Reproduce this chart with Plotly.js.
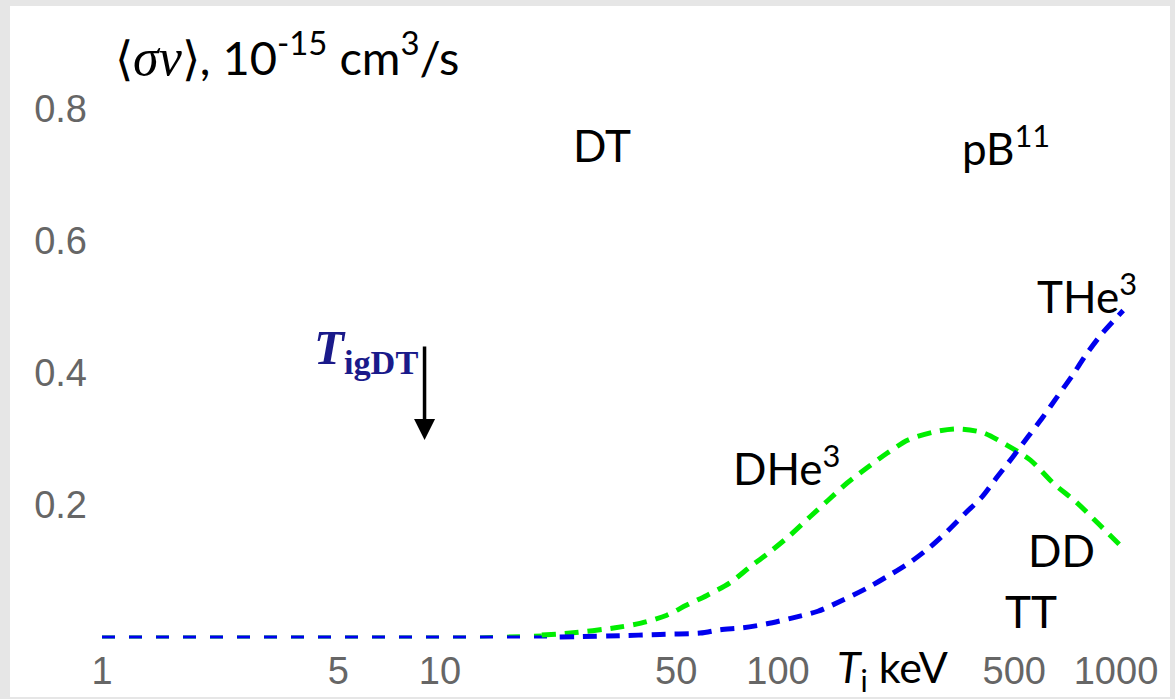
<!DOCTYPE html>
<html>
<head>
<meta charset="utf-8">
<script src="https://cdn.plot.ly/plotly-3.0.1.min.js"></script>
<style>
  html, body { margin: 0; padding: 0; background: #e6e6e6; width: 1175px; height: 699px; overflow: hidden; }
  #chart { position: absolute; left: 10px; top: 6px; width: 1160px; height: 691px; background: #ffffff; }
</style>
</head>
<body>
<div id="chart"></div>
<script>
// Temperature Ti (keV) and reactivity <sigma v> (1e-15 cm^3/s)
const T_dhe3 = [1, 13, 20, 24.3, 33, 39.3, 46.9, 53.5, 61.6, 72.1, 82.6, 94.7, 108.6, 124.4, 140.7, 160.1, 183.4, 210, 242.5, 287.4, 338.5, 404.6, 476.5, 557, 651.5, 767, 897, 1042];
const sv_dhe3 = [0, 0, 0.003, 0.006, 0.014, 0.021, 0.033, 0.048, 0.063, 0.082, 0.106, 0.129, 0.154, 0.182, 0.207, 0.233, 0.256, 0.278, 0.298, 0.310, 0.315, 0.309, 0.290, 0.268, 0.233, 0.203, 0.169, 0.136];

const T_the3 = [1, 22.6, 34.1, 44.8, 58.8, 67.4, 78.8, 92.7, 110.6, 131.2, 155.7, 183.4, 214.2, 245.8, 281.6, 318.5, 357.6, 401.5, 444.8, 492.5, 549, 608, 669, 741, 820, 909, 1050];
const sv_the3 = [0, 0, 0.002, 0.004, 0.006, 0.011, 0.014, 0.020, 0.029, 0.039, 0.056, 0.074, 0.094, 0.113, 0.136, 0.161, 0.187, 0.212, 0.242, 0.271, 0.303, 0.333, 0.363, 0.395, 0.429, 0.459, 0.494];

const xTickVals = [1, 5, 10, 50, 100, 500, 1000];
const xTickText = ['1', '5', '10', '50', '100', '500', '1000'];
const yTickVals = [0.2, 0.4, 0.6, 0.8];
const yTickText = ['0.2', '0.4', '0.6', '0.8'];

// reaction labels: [text, Ti keV, <sigma v>]
const reactionLabels = [
  ['DT', 30.1, 0.744],
  ['pB<sup>11</sup>', 473, 0.744],
  ['THe<sup>3</sup>', 820, 0.520],
  ['DHe<sup>3</sup>', 106, 0.259],
  ['DD', 692, 0.132],
  ['TT', 561, 0.039]
];
const T_ignitionDT = 9;      // keV
const sv_arrowTip = 0.298;

const thinCut = 20; // below this Ti the shared baseline is drawn thin

function part(T, v, keep) {
  const x = [], y = [];
  for (let i = 0; i < T.length; i++) if (keep(T[i])) { x.push(T[i]); y.push(v[i]); }
  return {x, y};
}

const gThick = part(T_dhe3, sv_dhe3, t => t >= thinCut);
const bThick = part(T_the3, sv_the3, t => t >= thinCut);
const gThin = part(T_dhe3, sv_dhe3, t => t <= thinCut);
const bThin = part(T_the3, sv_the3, t => t <= thinCut + 3);

const GREEN = '#00ee00';
const BLUE = '#0000ee';

const traces = [
  {x: gThin.x, y: gThin.y, mode: 'lines', line: {color: GREEN, width: 3, dash: '13px,14px'}, name: 'DHe3 base', showlegend: false},
  {x: bThin.x, y: bThin.y, mode: 'lines', line: {color: BLUE, width: 3, dash: '13px,14px'}, name: 'THe3 base', showlegend: false},
  {x: gThick.x, y: gThick.y, mode: 'lines', line: {color: GREEN, width: 5, dash: '14px,9px', shape: 'spline', smoothing: 0.8}, name: 'DHe3', showlegend: false},
  {x: bThick.x, y: bThick.y, mode: 'lines', line: {color: BLUE, width: 5, dash: '14px,9px', shape: 'spline', smoothing: 0.8}, name: 'THe3', showlegend: false}
];

const sansFont = 'Lato, "Open Sans", "Liberation Sans", sans-serif';
const annotations = reactionLabels.map(r => ({
  text: r[0], x: Math.log10(r[1]), y: r[2], xref: 'x', yref: 'y',
  showarrow: false, font: {family: sansFont, size: 44, color: '#000000'}
}));

annotations.push({
  text: '⟨<span style="font-family:\'Liberation Serif\', serif;font-size:52px"><i>σv</i></span>⟩, 10<sup>-15</sup> cm<sup>3</sup>/s',
  x: 0.0195, y: 1.024, xref: 'paper', yref: 'paper', xanchor: 'left', yanchor: 'middle',
  showarrow: false, font: {family: sansFont, size: 47, color: '#000000'}
});
annotations.push({
  text: '<i>T</i><sub>i</sub> keV',
  x: 0.757, y: -0.049, xref: 'paper', yref: 'paper', xanchor: 'center', yanchor: 'middle',
  showarrow: false, font: {family: sansFont, size: 43, color: '#000000'}
});
annotations.push({
  text: '<b><i>T</i></b><sub><b>igDT</b></sub>',
  x: Math.log10(8.7), y: 0.434, xref: 'x', yref: 'y', xanchor: 'right', yanchor: 'middle',
  showarrow: false, font: {family: '"Liberation Serif", "DejaVu Serif", serif', size: 49, color: '#1a1a8a'}
});
annotations.push({
  text: '', x: Math.log10(T_ignitionDT), y: sv_arrowTip, xref: 'x', yref: 'y',
  showarrow: true, ax: 0, ay: -95, arrowhead: 2, arrowsize: 1.2, arrowwidth: 3.5, arrowcolor: '#000000'
});

const tickFont = {family: '"Liberation Sans", Arial, sans-serif', size: 38, color: '#666666'};

const layout = {
  width: 1160, height: 691,
  margin: {l: 82, r: 20, t: 62, b: 56, pad: 0},
  paper_bgcolor: '#ffffff', plot_bgcolor: '#ffffff',
  showlegend: false,
  xaxis: {
    type: 'log', range: [-0.0296, 3.1006],
    tickvals: xTickVals, ticktext: xTickText, tickfont: tickFont,
    showgrid: false, zeroline: false, showline: false, ticks: '', ticklabelstandoff: 4
  },
  yaxis: {
    range: [-0.006, 0.861],
    tickvals: yTickVals, ticktext: yTickText, tickfont: tickFont,
    showgrid: false, zeroline: false, showline: false, ticks: '', ticklabelstandoff: 4
  },
  annotations: annotations
};

Plotly.newPlot('chart', traces, layout, {displayModeBar: false, staticPlot: true});
</script>
</body>
</html>
